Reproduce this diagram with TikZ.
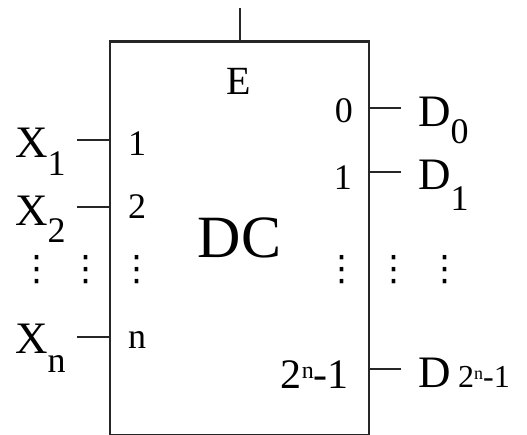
\documentclass[tikz,border=0pt]{standalone}
\usepackage{fontspec}
\setmainfont{Liberation Serif}
\newfontfamily\dotsfont{DejaVu Sans}
\usetikzlibrary{positioning}

\newcommand{\lowsub}[2][18pt]{\raisebox{-#1}{\fontsize{36}{36}\selectfont #2}}
\newcommand{\vdts}{{\dotsfont ⋮}}

\begin{document}
\begin{tikzpicture}[x=1pt, y=-1pt,
    wire/.style={line width=2.3pt, draw=black!85},
    sig/.style={inner sep=0pt, anchor=base west, font=\fontsize{45}{45}\selectfont},
    pin/.style={inner sep=0pt, anchor=base, font=\fontsize{36}{36}\selectfont},
    dts/.style={inner sep=0pt, font=\fontsize{35}{35}\selectfont}]

    \clip (0,0) rectangle (527,434);
    \useasboundingbox (0,0) rectangle (527,434);

    % decoder box
    \node[wire, draw, minimum width=259pt, minimum height=394pt, inner sep=0pt,
          font=\fontsize{60}{60}\selectfont] (dc) at (239.5,238.5) {\raisebox{1pt}{DC}};

    % enable
    \coordinate (en) at (240,8);
    \draw[wire] (en) -- (en |- dc.north);
    \node[pin, font=\fontsize{40}{40}\selectfont] (elbl) at (239,94) {E};

    % inputs
    \coordinate (x1) at (77,140);
    \coordinate (x2) at (77,207);
    \coordinate (xn) at (77,337);
    \draw[wire] (x1) -- (x1 -| dc.west);
    \draw[wire] (x2) -- (x2 -| dc.west);
    \draw[wire] (xn) -- (xn -| dc.west);

    \node[sig] (x1lbl) at (15,157) {X\lowsub{1}};
    \node[sig] (x2lbl) at (15,225) {X\lowsub[17pt]{2}};
    \node[sig] (xnlbl) at (15,353) {X\lowsub[19pt]{n}};

    \node[pin] (in1) at (137,155) {1};
    \node[pin] (in2) at (137,218) {2};
    \node[pin] (inn) at (137,348) {n};

    \node[dts] (ldots1) at (37,270) {\vdts};
    \node[dts] (ldots2) at (86,270) {\vdts};
    \node[dts] (ldots3) at (137,270) {\vdts};

    % outputs
    \coordinate (d0) at (401,108);
    \coordinate (d1) at (401,172);
    \coordinate (dm) at (401,369);
    \draw[wire] (d0) -- (d0 -| dc.east);
    \draw[wire] (d1) -- (d1 -| dc.east);
    \draw[wire] (dm) -- (dm -| dc.east);

    \node[pin, anchor=base east] (out0) at (353,122) {0};
    \node[pin, anchor=base east] (out1) at (352,189) {1};
    \node[pin, anchor=base east, font=\fontsize{42}{42}\selectfont] (outm) at (349,388)
        {2\raisebox{10pt}{\fontsize{24}{24}\selectfont n}-1};

    \node[sig] (d0lbl) at (418,126) {D\lowsub[17pt]{0}};
    \node[sig] (d1lbl) at (418,189) {D\lowsub[21pt]{1}};
    \node[sig] (dmlbl) at (418,387)
        {D\,{\fontsize{32}{32}\selectfont 2\raisebox{8pt}{\fontsize{18}{18}\selectfont n}-1}};

    \node[dts] (rdots1) at (342,270) {\vdts};
    \node[dts] (rdots2) at (394,270) {\vdts};
    \node[dts] (rdots3) at (445,270) {\vdts};

\end{tikzpicture}
\end{document}
